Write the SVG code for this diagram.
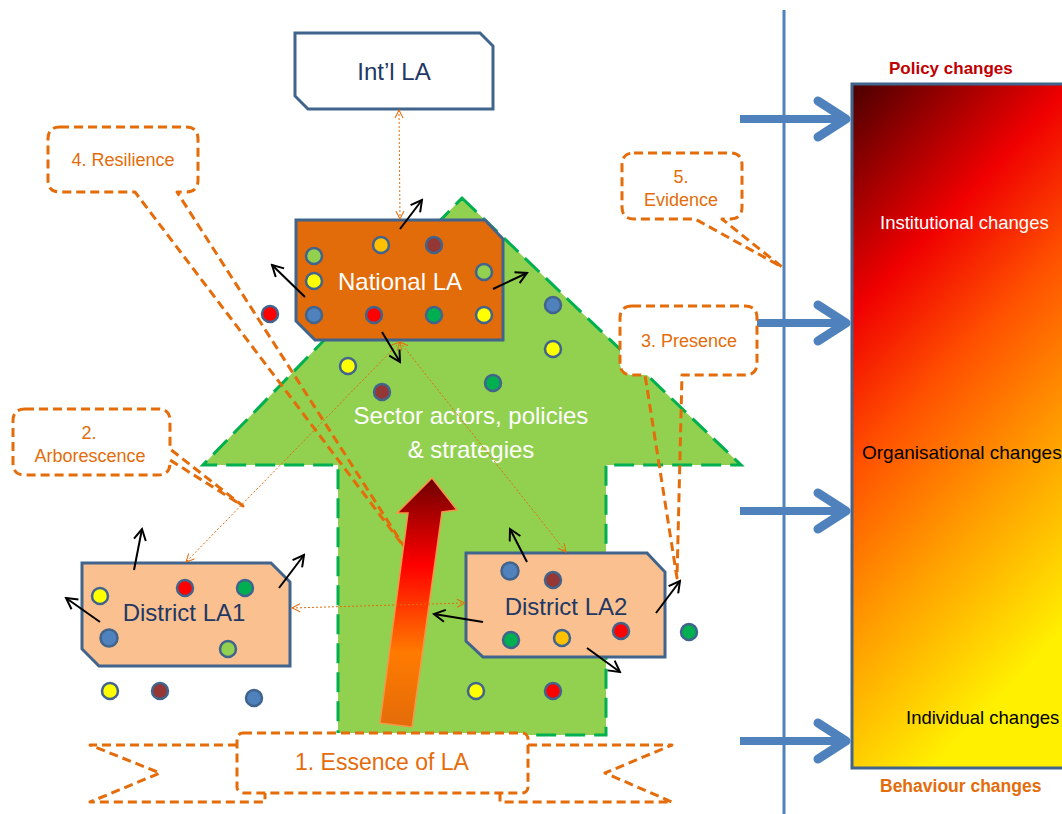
<svg xmlns="http://www.w3.org/2000/svg" width="1062" height="814" viewBox="0 0 1062 814">
<defs>
<style>
text{font-family:"Liberation Sans",Arial,sans-serif}
.la{stroke:#41648c;stroke-width:3}
.d{stroke:#41648c;stroke-width:2.5}
.blk{stroke:#000;stroke-width:2;fill:none;marker-end:url(#ab)}
.odot{stroke:#e46c0a;stroke-width:1;stroke-dasharray:2 2;fill:none;marker-end:url(#ao);marker-start:url(#ao)}
.call{fill:none;stroke:#e46c0a;stroke-width:3;stroke-dasharray:9 5;stroke-linejoin:round}
.cbg{fill:#fff;stroke:none}
.ct{fill:#e46c0a;font-size:18px;text-anchor:middle}
.barr{stroke:#4f81bd;stroke-width:8;fill:none}
.bhead{stroke:#4f81bd;stroke-width:9;fill:none;stroke-linecap:round;stroke-linejoin:round}
.yl{fill:#ffff00}.rd{fill:#ff0000}.gn{fill:#00b050}.lg{fill:#92d050}.bl{fill:#4f81bd}.go{fill:#ffc000}.br{fill:#953735}
</style>
<marker id="ab" viewBox="0 0 14 14" markerWidth="14" markerHeight="14" refX="12" refY="7" orient="auto" markerUnits="userSpaceOnUse">
<path d="M1,1 L12,7 L1,13" fill="none" stroke="#000" stroke-width="2"/>
</marker>
<marker id="ao" viewBox="0 0 10 10" markerWidth="10" markerHeight="10" refX="9" refY="5" orient="auto-start-reverse" markerUnits="userSpaceOnUse">
<path d="M1,1 L9,5 L1,9" fill="none" stroke="#e46c0a" stroke-width="1"/>
</marker>
<linearGradient id="chg" x1="0" y1="0" x2="0.35" y2="1">
<stop offset="0" stop-color="#4a0000"/>
<stop offset="0.12" stop-color="#8e0000"/>
<stop offset="0.3" stop-color="#f00000"/>
<stop offset="0.5" stop-color="#ff5000"/>
<stop offset="0.72" stop-color="#ff9a00"/>
<stop offset="1" stop-color="#fff000"/>
</linearGradient>
<linearGradient id="rag" gradientUnits="userSpaceOnUse" x1="0" y1="478" x2="0" y2="727">
<stop offset="0" stop-color="#6e0000"/>
<stop offset="0.35" stop-color="#ff0000"/>
<stop offset="0.7" stop-color="#ff7a00"/>
<stop offset="1" stop-color="#e46c0a"/>
</linearGradient>
</defs>
<rect width="1062" height="814" fill="#fff"/>

<g id="scale">
<line x1="784" y1="10" x2="784" y2="814" stroke="#4f81bd" stroke-width="3"/>
<rect x="852" y="84" width="230" height="684" fill="url(#chg)" stroke="#41648c" stroke-width="3"/>
<text x="889" y="74" font-size="17" font-weight="bold" fill="#c00000">Policy changes</text>
<text x="880" y="229" font-size="18.5" fill="#fff">Institutional changes</text>
<text x="862" y="459" font-size="19" fill="#000">Organisational changes</text>
<text x="906" y="724" font-size="18.5" fill="#000">Individual changes</text>
<text x="880" y="792" font-size="17.5" font-weight="bold" fill="#e46c0a">Behaviour changes</text>
<line class="barr" x1="740" y1="119" x2="846" y2="119"/><polyline class="bhead" points="818,101 846,119 818,137"/>
<line class="barr" x1="740" y1="323" x2="846" y2="323"/><polyline class="bhead" points="818,305 846,323 818,341"/>
<line class="barr" x1="740" y1="511" x2="846" y2="511"/><polyline class="bhead" points="818,493 846,511 818,529"/>
<line class="barr" x1="740" y1="741" x2="846" y2="741"/><polyline class="bhead" points="818,723 846,741 818,759"/>
</g>

<g id="sector">
<path d="M462,198 L741,465 L606,465 L606,735 L338,735 L338,465 L203,465 Z" fill="#92d050" stroke="#00b050" stroke-width="3" stroke-dasharray="20 9"/>
</g>

<g id="callout-resilience">
<rect class="cbg" x="48" y="127" width="150" height="65" rx="12"/>
<path class="call" d="M60,127 H186 Q198,127 198,139 V180 Q198,192 186,192 H177 L405,548 L135,192 H60 Q48,192 48,180 V139 Q48,127 60,127 Z"/>
<text class="ct" x="123" y="166">4.  Resilience</text>
</g>
<g id="callout-arborescence">
<rect class="cbg" x="13" y="409" width="157" height="66" rx="12"/>
<path class="call" d="M25,409 H158 Q170,409 170,421 V449 L243,506 L170,460 V463 Q170,475 158,475 H25 Q13,475 13,463 V421 Q13,409 25,409 Z"/>
<text class="ct" x="89" y="439">2.</text>
<text class="ct" x="90" y="462">Arborescence</text>
</g>
<g id="callout-evidence">
<rect class="cbg" x="622" y="153" width="120" height="66" rx="12"/>
<path class="call" d="M634,153 H730 Q742,153 742,165 V207 Q742,219 730,219 H722 L782,267 L695,219 H634 Q622,219 622,207 V165 Q622,153 634,153 Z"/>
<text class="ct" x="681" y="183">5.</text>
<text class="ct" x="681" y="206">Evidence</text>
</g>
<g id="callout-presence">
<rect class="cbg" x="620" y="306" width="137" height="69" rx="12"/>
<path class="call" d="M632,306 H745 Q757,306 757,318 V363 Q757,375 745,375 H682 L677,578 L645,375 H632 Q620,375 620,363 V318 Q620,306 632,306 Z"/>
<text class="ct" x="689" y="347">3. Presence</text>
</g>

<g id="red-arrow">
<path d="M380,723 L408,513 L397,513 L432,478 L457,510 L442,512 L412,727 Z" fill="url(#rag)" stroke="#f79646" stroke-width="1.5"/>
</g>

<g id="intl-la">
<path class="la" d="M295,33 H480 L493,46 V109 H308 L295,96 Z" fill="#fff"/>
<text x="394" y="80" font-size="24" fill="#1f3864" text-anchor="middle">Int’l LA</text>
</g>

<g id="national-la">
<path class="la" d="M296,220 H485 L503,239 V340 H315 L296,321 Z" fill="#e26b0a"/>
<text x="400" y="290" font-size="24" fill="#fff" text-anchor="middle">National LA</text>
<circle class="d lg" cx="314" cy="256" r="8"/>
<circle class="d yl" cx="314" cy="281" r="8"/>
<circle class="d bl" cx="314" cy="315" r="8"/>
<circle class="d go" cx="381" cy="245" r="8"/>
<circle class="d br" cx="434" cy="245" r="8"/>
<circle class="d lg" cx="484" cy="272" r="8"/>
<circle class="d rd" cx="374" cy="315" r="8"/>
<circle class="d gn" cx="434" cy="315" r="8"/>
<circle class="d yl" cx="484" cy="315" r="8"/>
</g>

<g id="district-la1">
<path class="la" d="M82,563 H271 L290,582 V666 H99 L82,649 Z" fill="#fac090"/>
<text x="184" y="621" font-size="24" fill="#1f3864" text-anchor="middle">District LA1</text>
<circle class="d yl" cx="100" cy="596" r="8"/>
<circle class="d rd" cx="185" cy="588" r="8"/>
<circle class="d gn" cx="245" cy="588" r="8"/>
<circle class="d bl" cx="109" cy="638" r="8.5"/>
<circle class="d lg" cx="228" cy="649" r="8"/>
</g>

<g id="district-la2">
<path class="la" d="M466,553 H647 L665,572 V657 H483 L466,641 Z" fill="#fac090"/>
<text x="566" y="615" font-size="24" fill="#1f3864" text-anchor="middle">District LA2</text>
<circle class="d bl" cx="510" cy="571" r="8.5"/>
<circle class="d br" cx="553" cy="580" r="8"/>
<circle class="d gn" cx="511" cy="640" r="8"/>
<circle class="d go" cx="562" cy="638" r="8"/>
<circle class="d rd" cx="621" cy="631" r="8"/>
</g>

<g id="free-actors">
<circle class="d rd" cx="270" cy="314" r="8"/>
<circle class="d bl" cx="553" cy="305" r="8"/>
<circle class="d yl" cx="553" cy="349" r="8"/>
<circle class="d yl" cx="348" cy="366" r="8"/>
<circle class="d br" cx="382" cy="392" r="8"/>
<circle class="d gn" cx="493" cy="383" r="8"/>
<circle class="d yl" cx="110" cy="691" r="8"/>
<circle class="d br" cx="160" cy="691" r="8"/>
<circle class="d bl" cx="254" cy="698" r="8"/>
<circle class="d yl" cx="476" cy="691" r="8"/>
<circle class="d rd" cx="553" cy="691" r="8"/>
<circle class="d gn" cx="689" cy="632" r="8"/>
</g>

<g id="sector-label">
<text x="471" y="424" font-size="24" fill="#fff" text-anchor="middle">Sector actors, policies</text>
<text x="471" y="458" font-size="24" fill="#fff" text-anchor="middle">&amp; strategies</text>
</g>

<g id="connectors">
<line class="odot" x1="399" y1="110" x2="400" y2="219"/>
<line class="odot" x1="400" y1="342" x2="186" y2="562"/>
<line class="odot" x1="400" y1="342" x2="566" y2="552"/>
<line class="odot" x1="292" y1="608" x2="465" y2="603"/>
<line class="blk" x1="400" y1="229" x2="422" y2="200"/>
<line class="blk" x1="305" y1="297" x2="272" y2="265"/>
<line class="blk" x1="493" y1="289" x2="527" y2="273"/>
<line class="blk" x1="382" y1="332" x2="400" y2="362"/>
<line class="blk" x1="134" y1="570" x2="142" y2="529"/>
<line class="blk" x1="279" y1="588" x2="304" y2="555"/>
<line class="blk" x1="100" y1="622" x2="66" y2="598"/>
<line class="blk" x1="527" y1="562" x2="510" y2="529"/>
<line class="blk" x1="483" y1="622" x2="434" y2="614"/>
<line class="blk" x1="587" y1="648" x2="620" y2="672"/>
<line class="blk" x1="656" y1="613" x2="680" y2="581"/>
</g>

<g id="essence">
<path class="call" d="M237,745 H90 L160,773 L90,802 H265 V793"/>
<path class="call" d="M528,745 H672 L605,773 L672,802 H500 V793"/>
<rect class="call" x="237" y="733" width="291" height="60" rx="6" style="fill:#fff"/>
<text x="382" y="770" font-size="23" fill="#e46c0a" text-anchor="middle">1. Essence of LA</text>
</g>
</svg>
